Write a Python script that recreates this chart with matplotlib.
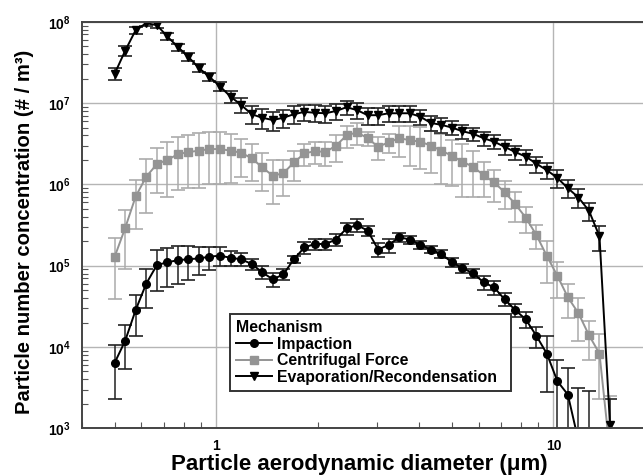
import matplotlib
matplotlib.use("Agg")
import matplotlib.pyplot as plt
from matplotlib.lines import Line2D
from matplotlib.ticker import LogLocator, NullFormatter, FixedLocator

plt.rcParams['font.family'] = ['Liberation Sans', 'DejaVu Sans']
plt.rcParams['font.weight'] = 'bold'
plt.rcParams['mathtext.fontset'] = 'custom'
plt.rcParams['mathtext.rm'] = 'Liberation Sans'
plt.rcParams['mathtext.bf'] = 'Liberation Sans:bold'

# aerodynamic diameter channels (um)
diameter = [0.500, 0.537, 0.577, 0.620, 0.667, 0.716, 0.770, 0.827, 0.889, 0.955,
            1.027, 1.103, 1.185, 1.274, 1.369, 1.471, 1.581, 1.699, 1.826, 1.962,
            2.108, 2.266, 2.435, 2.616, 2.812, 3.021, 3.247, 3.489, 3.750, 4.029,
            4.330, 4.653, 5.000, 5.373, 5.774, 6.205, 6.668, 7.165, 7.700, 8.275,
            8.891, 9.555, 10.27, 11.03, 11.86, 12.74, 13.69, 14.71]

impaction = [6.4e3, 1.19e4, 2.85e4, 6.0e4, 1.02e5, 1.1e5, 1.17e5, 1.2e5, 1.23e5, 1.29e5,
             1.33e5, 1.25e5, 1.2e5, 1.05e5, 8.3e4, 6.8e4, 7.8e4, 1.2e5, 1.68e5, 1.85e5,
             1.85e5, 2.1e5, 2.88e5, 3.16e5, 2.7e5, 1.58e5, 1.8e5, 2.24e5, 2.1e5, 1.8e5,
             1.58e5, 1.39e5, 1.1e5, 9.3e4, 8.1e4, 6.25e4, 5.4e4, 3.86e4, 2.85e4, 2.19e4,
             1.38e4, 8.3e3, 3.8e3, 2.6e3, 7e2, 5e2]
impaction_err = [4.1e3, 6.5e3, 1.5e4, 3e4, 5.3e4, 5.5e4, 5.8e4, 5.3e4, 4.7e4, 4e4,
                 3.5e4, 2.5e4, 2.2e4, 1.6e4, 1.5e4, 1.3e4, 1.2e4, 1.3e4, 2.7e4, 2.8e4,
                 2.8e4, 3.5e4, 5e4, 5.5e4, 4e4, 3e4, 3.5e4, 3e4, 2.5e4, 2e4,
                 1.5e4, 1.5e4, 1.3e4, 1.2e4, 1e4, 1.2e4, 1e4, 7e3, 5e3, 5e3,
                 4e3, 5.5e3, 3.1e3, 2.9e3, 2.4e3, 2.4e3]

centrifugal = [1.29e5, 2.9e5, 7.1e5, 1.24e6, 1.78e6, 2.0e6, 2.35e6, 2.5e6, 2.6e6, 2.72e6,
               2.72e6, 2.6e6, 2.45e6, 2.1e6, 1.62e6, 1.28e6, 1.37e6, 1.86e6, 2.4e6, 2.57e6,
               2.5e6, 3.0e6, 4.0e6, 4.37e6, 3.7e6, 2.9e6, 3.3e6, 3.7e6, 3.5e6, 3.35e6,
               3.0e6, 2.6e6, 2.25e6, 1.9e6, 1.65e6, 1.3e6, 1.06e6, 8.0e5, 5.75e5, 3.9e5,
               2.4e5, 1.32e5, 7.5e4, 4.1e4, 2.6e4, 1.4e4, 8.3e3, 5e2]
centrifugal_err = [9e4, 2e5, 4.3e5, 8e5, 1e6, 1.3e6, 1.5e6, 1.6e6, 1.7e6, 1.7e6,
                   1.7e6, 1.55e6, 1.2e6, 1.0e6, 8e5, 7e5, 6.5e5, 7.5e5, 7e5, 8e5,
                   8e5, 1.1e6, 1.2e6, 1.3e6, 7e5, 9e5, 9e5, 1.5e6, 1.8e6, 1.8e6,
                   1.6e6, 1.6e6, 1.3e6, 1.2e6, 9.5e5, 6e5, 4.5e5, 3e5, 2.3e5, 1.4e5,
                   8e4, 7e4, 3.5e4, 1.8e4, 1.4e4, 7e3, 6e3, 2e3]

evaporation = [2.3e7, 4.4e7, 7.9e7, 9.6e7, 9.1e7, 6.6e7, 4.9e7, 3.7e7, 2.7e7, 2.1e7,
               1.6e7, 1.2e7, 9.5e6, 7.3e6, 6.6e6, 6.2e6, 6.6e6, 7.3e6, 7.8e6, 7.6e6,
               7.5e6, 8.0e6, 8.9e6, 8.2e6, 7.1e6, 7.1e6, 7.5e6, 7.5e6, 7.5e6, 6.8e6,
               5.7e6, 5.4e6, 5.0e6, 4.5e6, 4.2e6, 3.7e6, 3.35e6, 2.9e6, 2.5e6, 2.2e6,
               1.8e6, 1.5e6, 1.2e6, 9.0e5, 6.9e5, 4.75e5, 2.3e5, 1.1e3]
evaporation_err = [4e6, 6e6, 8e6, 8e6, 8e6, 6e6, 5e6, 4e6, 3e6, 2.5e6,
                   2e6, 2e6, 2e6, 1.8e6, 1.8e6, 1.6e6, 1.7e6, 1.8e6, 1.8e6, 1.8e6,
                   1.8e6, 1.8e6, 1.8e6, 1.8e6, 1.7e6, 1.7e6, 1.6e6, 1.6e6, 1.6e6, 1.4e6,
                   1.2e6, 1.1e6, 1.0e6, 9e5, 8e5, 7e5, 6.5e5, 6e5, 5e5, 4.5e5,
                   4e5, 3.5e5, 3e5, 2.2e5, 1.8e5, 1.2e5, 8e4, 1.2e3]

labels = ['Impaction', 'Centrifugal Force', 'Evaporation/Recondensation']
grey = '#949494'

fig = plt.figure(figsize=(6.43, 4.75), dpi=100)
ax = fig.add_axes([82 / 643, 1 - 428.3 / 475, 573 / 643, 406.5 / 475])
ax.set_xscale('log')
ax.set_yscale('log', nonpositive='clip')

common = dict(capsize=5, elinewidth=1.1, capthick=1.2, lw=1.4, ms=5.5)
ax.errorbar(diameter[:len(centrifugal)], centrifugal, yerr=centrifugal_err,
            fmt='-s', color=grey, ecolor='#ababab', **common)
ax.errorbar(diameter[:len(impaction)], impaction, yerr=impaction_err,
            fmt='-o', color='black', ecolor='#222222', **common)
ax.errorbar(diameter[:len(evaporation)], evaporation, yerr=evaporation_err,
            fmt='-v', color='black', ecolor='#222222', **common)

ax.set_xlim(0.4, 20)
ax.set_ylim(1e3, 1e8)

ax.set_axisbelow(True)
ax.grid(True, which='major', color='#b5b5b5', lw=1.0)

ax.xaxis.set_major_locator(FixedLocator([1, 10]))
ax.set_xticklabels(['1', '10'])
ax.xaxis.set_minor_locator(LogLocator(base=10, subs=range(2, 10)))
ax.xaxis.set_minor_formatter(NullFormatter())
ax.yaxis.set_major_locator(FixedLocator([1e3, 1e4, 1e5, 1e6, 1e7, 1e8]))
ax.set_yticklabels([r'$\mathbf{10^{%d}}$' % p for p in range(3, 9)])
ax.yaxis.set_minor_locator(LogLocator(base=10, subs=range(2, 10)))
ax.yaxis.set_minor_formatter(NullFormatter())
ax.tick_params(which='both', direction='in', color='#555555', labelsize=10)
ax.tick_params(which='major', length=0, pad=8)
ax.tick_params(which='minor', length=4, width=0.8)
for s in ax.spines.values():
    s.set_color('#444444')
    s.set_linewidth(1.4)

ax.set_xlabel('Particle aerodynamic diameter (μm)', fontsize=16, fontweight='bold')
ax.xaxis.set_label_coords(0.484, -0.09)
ax.xaxis.label.set_verticalalignment('center')
ax.set_ylabel('Particle number concentration (# / m³)', fontsize=14.6, fontweight='bold')
ax.yaxis.set_label_coords(-0.1, 0.483)
ax.yaxis.label.set_verticalalignment('center')

handles = [
    Line2D([], [], color='black', marker='o', ms=5.5, lw=1.4),
    Line2D([], [], color=grey, marker='s', ms=5.5, lw=1.4),
    Line2D([], [], color='black', marker='v', ms=5.5, lw=1.4),
]
leg = ax.legend(handles, labels, title='Mechanism', loc='upper left',
                bbox_to_anchor=(0.258, 0.0, 0.490, 0.281), mode='expand',
                borderaxespad=0,
                prop={'weight': 'bold', 'size': 11.4},
                title_fontproperties={'weight': 'bold', 'size': 11.4},
                alignment='left', handlelength=2.3, handletextpad=0.3,
                labelspacing=0.1, borderpad=0.38, fancybox=False, framealpha=1,
                edgecolor='#333333')
leg.get_frame().set_linewidth(1.4)

fig.savefig('out.png', dpi=100)
